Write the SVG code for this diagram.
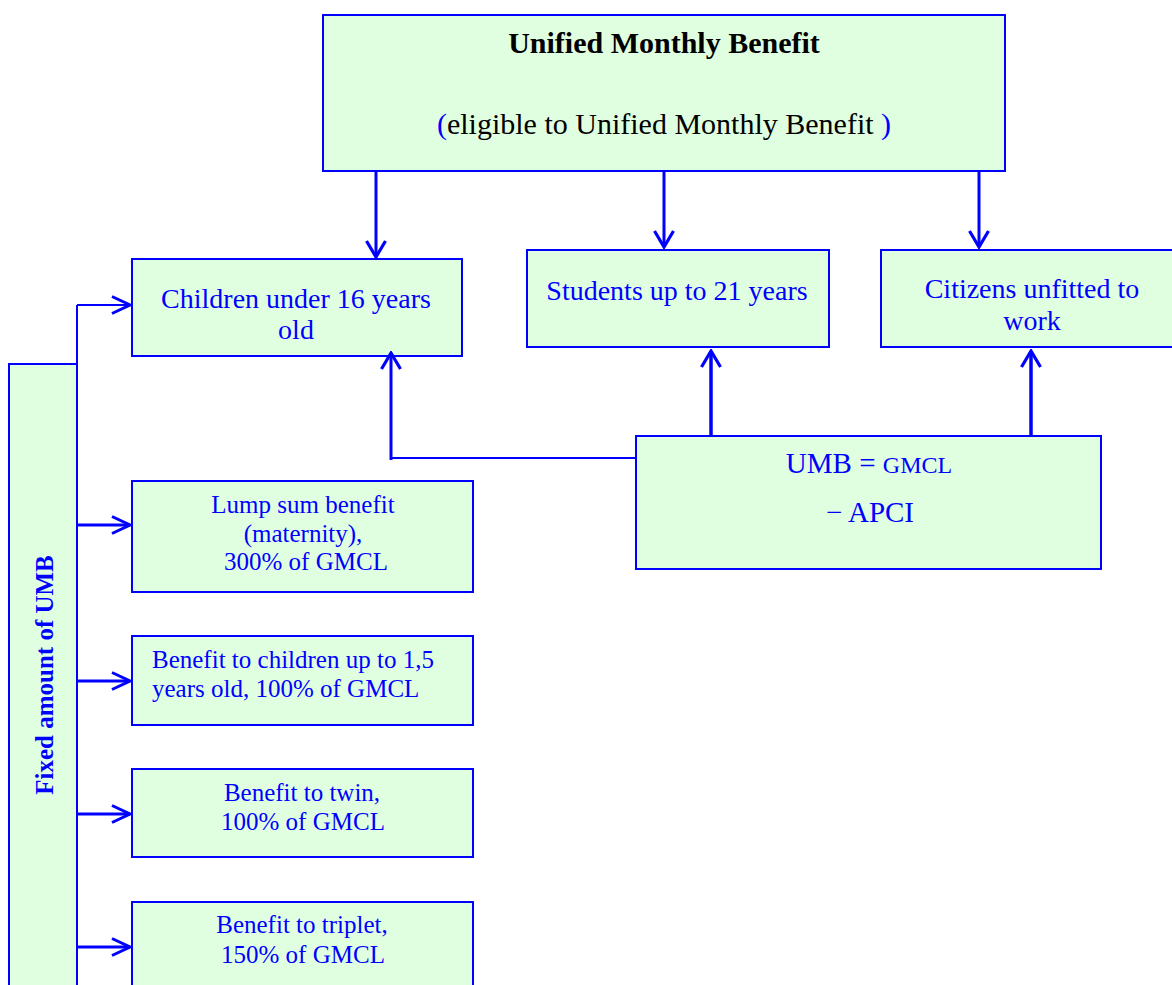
<svg xmlns="http://www.w3.org/2000/svg" width="1172" height="985" viewBox="0 0 1172 985">
<defs>
<marker id="ah" viewBox="0 0 22 20" refX="20" refY="10" markerWidth="22" markerHeight="20" markerUnits="userSpaceOnUse" orient="auto">
<path d="M2,1.5 L20,10 L2,18.5" fill="none" stroke="#0000ff" stroke-width="3"/>
</marker>
<marker id="ahb" viewBox="0 0 20 22" refX="18" refY="11" markerWidth="20" markerHeight="22" markerUnits="userSpaceOnUse" orient="auto">
<path d="M2,1.5 L18,11 L2,20.5" fill="none" stroke="#0000ff" stroke-width="3.2"/>
</marker>
</defs>
<style>
.box{fill:#e0ffe0;stroke:#0000ff;stroke-width:2}
.t{font-family:"Liberation Serif","Times New Roman",serif;fill:#0000ff;text-anchor:middle}
.k{fill:#000}
.c{fill:none;stroke:#0000ff}
</style>
<rect width="1172" height="985" fill="#fff"/>
<g id="top">
<rect class="box" x="323" y="15" width="682" height="156"/>
<text class="t k" x="664" y="53" font-size="30" font-weight="bold">Unified Monthly Benefit</text>
<text class="t" x="664" y="134" font-size="30"><tspan>(</tspan><tspan class="k">eligible to Unified Monthly Benefit </tspan><tspan>)</tspan></text>
</g>
<g id="children">
<rect class="box" x="132" y="259" width="330" height="97"/>
<text class="t" x="296" y="308" font-size="28">Children under 16 years</text>
<text class="t" x="296" y="339" font-size="28">old</text>
</g>
<g id="students">
<rect class="box" x="527" y="250" width="302" height="97"/>
<text class="t" x="677" y="300" font-size="28">Students up to 21 years</text>
</g>
<g id="citizens">
<rect class="box" x="881" y="250" width="295" height="97"/>
<text class="t" x="1032" y="298" font-size="28">Citizens unfitted to</text>
<text class="t" x="1032" y="330" font-size="28">work</text>
</g>
<g id="umb">
<rect class="box" x="636" y="436" width="465" height="133"/>
<text class="t" x="869" y="473" font-size="29">UMB = <tspan font-size="24">GMCL</tspan></text>
<text class="t" x="870" y="522" font-size="29">− APCI</text>
</g>
<g id="fixed">
<rect class="box" x="9" y="364" width="68" height="630"/>
<text class="t" transform="translate(53,675) rotate(-90)" font-size="25" font-weight="bold">Fixed amount of UMB</text>
</g>
<g id="lump">
<rect class="box" x="132" y="481" width="341" height="111"/>
<text class="t" x="303" y="513" font-size="25">Lump sum benefit</text>
<text class="t" x="303" y="542" font-size="25">(maternity),</text>
<text class="t" x="306" y="570" font-size="25">300% of GMCL</text>
</g>
<g id="infant">
<rect class="box" x="132" y="636" width="341" height="89"/>
<text class="t" x="152" y="668" font-size="25" style="text-anchor:start">Benefit to children up to 1,5</text>
<text class="t" x="152" y="697" font-size="25" style="text-anchor:start">years old, 100% of GMCL</text>
</g>
<g id="twin">
<rect class="box" x="132" y="769" width="341" height="88"/>
<text class="t" x="302" y="801" font-size="25">Benefit to twin,</text>
<text class="t" x="303" y="830" font-size="25">100% of GMCL</text>
</g>
<g id="triplet">
<rect class="box" x="132" y="902" width="341" height="90"/>
<text class="t" x="302" y="933" font-size="25">Benefit to triplet,</text>
<text class="t" x="303" y="963" font-size="25">150% of GMCL</text>
</g>
<g id="connectors">
<path class="c" stroke-width="3" d="M376,171 V257" marker-end="url(#ahb)"/>
<path class="c" stroke-width="3" d="M664,171 V247" marker-end="url(#ahb)"/>
<path class="c" stroke-width="3" d="M979,171 V247" marker-end="url(#ahb)"/>
<path class="c" stroke-width="3.5" d="M711,437 V351" marker-end="url(#ahb)"/>
<path class="c" stroke-width="3.5" d="M1031,437 V351" marker-end="url(#ahb)"/>
<path class="c" stroke-width="2" d="M636,458 H391"/>
<path class="c" stroke-width="3" d="M391,460 V353" marker-end="url(#ahb)"/>
<path class="c" stroke-width="2" d="M77,305 V985"/>
<path class="c" stroke-width="2" d="M77,305 H130" marker-end="url(#ah)"/>
<path class="c" stroke-width="3" d="M77,525 H130" marker-end="url(#ah)"/>
<path class="c" stroke-width="3" d="M77,681 H130" marker-end="url(#ah)"/>
<path class="c" stroke-width="3" d="M77,814 H130" marker-end="url(#ah)"/>
<path class="c" stroke-width="3" d="M77,947 H130" marker-end="url(#ah)"/>
</g>
</svg>
